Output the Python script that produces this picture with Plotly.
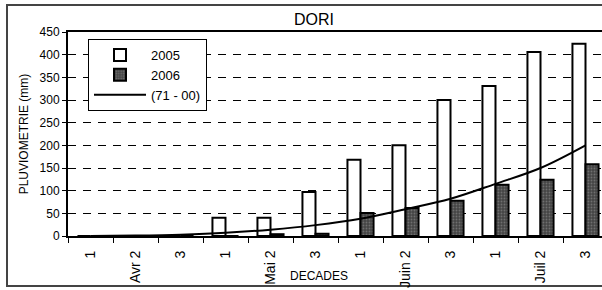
import plotly.graph_objects as go

# ---- data ----
decade_pos = list(range(12))
tick_labels = ["1", "Avr 2", "3", "1", "Mai 2", "3", "1", "Juin 2", "3", "1", "Juil 2", "3"]
rain_2005 = [0, 0, 0, 40, 40, 97, 168, 200, 300, 331, 406, 424]
rain_2006 = [0, 0, 0, 0, 4, 5, 51, 62, 78, 113, 124, 158]
normal_7100 = [0, 1, 3, 7, 14, 24, 38, 59, 82, 115, 150, 200]

FONT = "Liberation Sans, Arial, sans-serif"

W, H = 602, 290
L, R, T, B = 68, 0, 32, 54
pw = W - L - R
ph = H - T - B

def px_x(px):
    return (px - L) / pw

def px_y(py):
    return (H - B - py) / ph

fig = go.Figure()
fig.add_trace(go.Bar(
    x=decade_pos, y=rain_2005, name="2005",
    marker=dict(color="white", line=dict(color="black", width=2)),
))
fig.add_trace(go.Bar(
    x=decade_pos, y=rain_2006, name="2006",
    marker=dict(color="#444444", line=dict(color="black", width=2),
                pattern=dict(shape=".", fillmode="overlay", fgcolor="#9a9a9a", size=3, solidity=0.3)),
))
fig.add_trace(go.Scatter(
    x=decade_pos, y=normal_7100, name="(71 - 00)", mode="lines",
    line=dict(color="black", width=2, shape="spline"),
))

fig.update_layout(
    width=W, height=H,
    margin=dict(l=L, r=R, t=T, b=B, autoexpand=False),
    paper_bgcolor="white", plot_bgcolor="white",
    barmode="group", bargap=0.42, bargroupgap=0,
    font=dict(family=FONT, color="black", size=12),
    title=dict(text="DORI", x=314 / W, xanchor="center", y=1 - 19.5 / H, yanchor="middle",
               font=dict(family=FONT, size=16, color="black")),
    showlegend=True,
    legend=dict(x=px_x(88), y=px_y(39), xanchor="left", yanchor="top",
                bgcolor="white", bordercolor="black", borderwidth=1,
                font=dict(family=FONT, size=13, color="black"),
                itemwidth=52, tracegroupgap=0, traceorder="normal"),
)

fig.update_xaxes(
    automargin=False,
    range=[-0.5, -0.5 + pw / 45.0],
    tickmode="array", tickvals=decade_pos, ticktext=tick_labels,
    tickangle=-90, ticks="outside", ticklen=7, tickcolor="rgba(0,0,0,0)",
    tickfont=dict(family=FONT, size=14, color="black"),
    minor=dict(tickvals=[i - 0.5 for i in range(13)], ticks="outside", ticklen=5,
               tickcolor="black", tickwidth=1, showgrid=False),
    showgrid=False, zeroline=False,
    showline=True, linecolor="black", linewidth=2, mirror=True,
)
fig.update_yaxes(
    automargin=False,
    range=[0, 450], dtick=50, tick0=0,
    ticks="outside", ticklen=4, tickcolor="black", tickwidth=1,
    tickfont=dict(family=FONT, size=12, color="black"),
    showgrid=True, gridcolor="black", gridwidth=1, griddash="8px,7px",
    zeroline=False, showline=True, linecolor="black", linewidth=2,
    title=dict(text="PLUVIOMETRIE (mm)", font=dict(family=FONT, size=12, color="black"), standoff=8),
)

fig.add_annotation(text="DECADES", xref="paper", yref="paper",
                   x=px_x(318.5), y=px_y(276), xanchor="center", yanchor="middle",
                   showarrow=False, font=dict(family=FONT, size=12, color="black"))

fig.add_shape(type="rect", xref="paper", yref="paper",
              x0=px_x(7), x1=px_x(640), y0=px_y(286), y1=px_y(5),
              line=dict(color="#444444", width=2), fillcolor="rgba(0,0,0,0)", layer="below")

fig.write_html("out.html", config={"displayModeBar": False},
               post_script="document.body.style.margin='0';document.body.style.overflow='hidden';")
